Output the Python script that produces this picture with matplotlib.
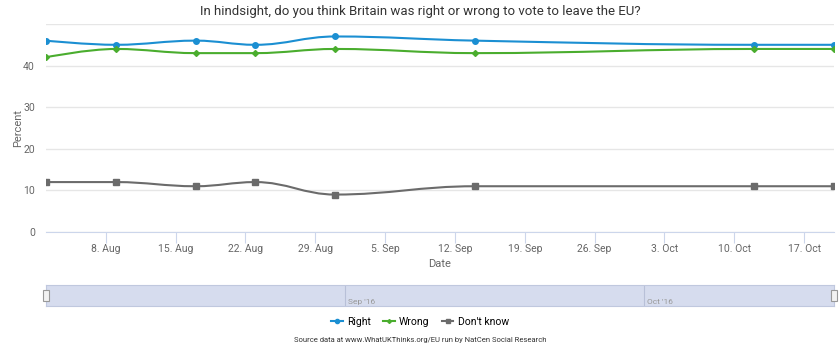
import numpy as np
import pandas as pd
import matplotlib
matplotlib.use("Agg")
import matplotlib.pyplot as plt
import matplotlib.dates as mdates
from matplotlib.path import Path
from matplotlib.patches import PathPatch, Rectangle

plt.rcParams['font.family'] = ['Roboto', 'DejaVu Sans']

dates = ['2016-08-02', '2016-08-09', '2016-08-17', '2016-08-23',
         '2016-08-31', '2016-09-14', '2016-10-12', '2016-10-20']
right = [46, 45, 46, 45, 47, 46, 45, 45]
wrong = [42, 44, 43, 43, 44, 43, 44, 44]
dont_know = [12, 12, 11, 12, 9, 11, 11, 11]
nav_months = ['2016-09-01', '2016-10-01']

title = 'In hindsight, do you think Britain was right or wrong to vote to leave the EU?'
source = 'Source data at www.WhatUKThinks.org/EU run by NatCen Social Research'

x = mdates.date2num(pd.to_datetime(dates))


def spline_path(xs, ys, smoothing=1.5):
    # highcharts-like spline: bezier control points per point
    n = len(xs)
    lc = [(xs[i], ys[i]) for i in range(n)]
    rc = [(xs[i], ys[i]) for i in range(n)]
    denom = smoothing + 1
    for i in range(1, n - 1):
        px, py = xs[i], ys[i]
        lx, ly = xs[i - 1], ys[i - 1]
        nx, ny = xs[i + 1], ys[i + 1]
        lcx = (smoothing * px + lx) / denom
        lcy = (smoothing * py + ly) / denom
        rcx = (smoothing * px + nx) / denom
        rcy = (smoothing * py + ny) / denom
        if rcx != lcx:
            corr = (rcy - lcy) * (rcx - px) / (rcx - lcx) + py - rcy
            lcy += corr
            rcy += corr
        if lcy > ly and lcy > py:
            lcy = max(ly, py)
            rcy = 2 * py - lcy
        elif lcy < ly and lcy < py:
            lcy = min(ly, py)
            rcy = 2 * py - lcy
        if rcy > ny and rcy > py:
            rcy = max(ny, py)
            lcy = 2 * py - rcy
        elif rcy < ny and rcy < py:
            rcy = min(ny, py)
            lcy = 2 * py - rcy
        lc[i] = (lcx, lcy)
        rc[i] = (rcx, rcy)
    verts = [(xs[0], ys[0])]
    codes = [Path.MOVETO]
    for i in range(1, n):
        verts += [rc[i - 1], lc[i], (xs[i], ys[i])]
        codes += [Path.CURVE4] * 3
    return Path(verts, codes)


fig = plt.figure(figsize=(8.4, 3.5), dpi=100)
ax = fig.add_axes([46 / 840, 1 - 232 / 350, 788 / 840, 208 / 350])

series = [
    ('Right', right, '#1b8fd2', 'o', 4),
    ('Wrong', wrong, '#4aad2e', 'D', 3),
    ("Don't know", dont_know, '#6b6b6b', 's', 4),
]
for name, vals, col, mk, ms in series:
    ax.add_patch(PathPatch(spline_path(x, vals), fill=False, edgecolor=col, lw=1.5, zorder=3))
    ax.plot(x, vals, ls='none', marker=mk, ms=ms, color=col, zorder=4)

ax.set_xlim(x[0], x[-1])
ax.set_ylim(0, 50)
ax.set_yticks([0, 10, 20, 30, 40, 50])
ax.set_yticklabels(['0', '10', '20', '30', '40', ''])
ax.grid(axis='y', color='#e6e6e6', lw=1)
ax.set_axisbelow(True)
ax.xaxis.set_major_locator(mdates.WeekdayLocator(byweekday=mdates.MO))
ax.xaxis.set_major_formatter(mdates.DateFormatter('%-d. %b'))
for s in ['top', 'right', 'left']:
    ax.spines[s].set_visible(False)
ax.spines['bottom'].set_color('#ccd6eb')
ax.tick_params(axis='x', colors='#ccd6eb', labelcolor='#666666', labelsize=7.5, length=8, pad=1)
ax.tick_params(axis='y', length=0, labelcolor='#666666', labelsize=7.5, pad=8)
ax.set_xlabel('Date', fontsize=8, color='#666666', labelpad=3)
ax.set_ylabel('Percent', fontsize=8, color='#666666', labelpad=0)

fig.text(0.5, 1 - 12 / 350, title, ha='center', va='center', fontsize=9.5, color='#333333')

# navigator
nav = fig.add_axes([46 / 840, 1 - 306 / 350, 788 / 840, 21 / 350])
nav.set_xlim(x[0], x[-1])
nav.set_ylim(0, 1)
nav.set_facecolor('#d6dcee')
for s in nav.spines.values():
    s.set_color('#c0c8de')
nav.set_xticks([])
nav.set_yticks([])
for m in nav_months:
    mx = mdates.date2num(pd.Timestamp(m))
    nav.axvline(mx, color='#b8c0d8', lw=0.8)
    nav.text(mx + 0.3, 0.2, pd.Timestamp(m).strftime("%b '%y"), fontsize=6,
             color='#999999', ha='left', va='center')
for xe in [x[0], x[-1]]:
    nav.add_patch(Rectangle((xe - 0.35, 0.25), 0.7, 0.5, facecolor='#f2f2f2',
                            edgecolor='#999999', lw=0.8, clip_on=False, zorder=5))

handles = [plt.Line2D([], [], color=c, marker=m, ms=ms - 1, lw=1.5) for _, _, c, m, ms in series]
fig.legend(handles, [s[0] for s in series], loc='center', bbox_to_anchor=(0.5, 1 - 322 / 350),
           ncol=3, frameon=False, fontsize=7.5, handlelength=1.1, handletextpad=0.4, columnspacing=1.2)
fig.text(0.5, 1 - 340 / 350, source, ha='center', va='center', fontsize=5.5, color='#333333')

fig.savefig('out.png', dpi=100)
